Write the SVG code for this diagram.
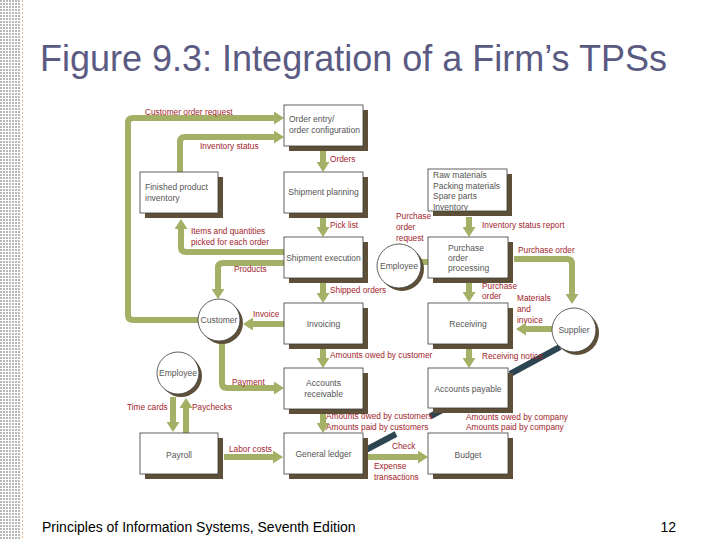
<svg xmlns="http://www.w3.org/2000/svg" width="720" height="540" viewBox="0 0 720 540">
<defs>
<pattern id="dots" width="3" height="3" patternUnits="userSpaceOnUse">
<rect x="0" y="0" width="2" height="2" fill="#b8b8b8"/>
</pattern>
<marker id="ah" markerUnits="userSpaceOnUse" markerWidth="12" markerHeight="13" refX="2" refY="6.5" orient="auto" viewBox="0 0 12 13">
<path d="M0,0 L10,6.5 L0,13 z" fill="#a4b065"/>
</marker>
<style>
.box{fill:#fff;stroke:#3a3a3a;stroke-width:0.8}
.sh{fill:#5e5038}
.bt{font-family:"Liberation Sans",Arial,sans-serif;font-size:8.5px;fill:#555}
.lb{font-family:"Liberation Sans",Arial,sans-serif;font-size:8.3px;fill:#a3242c}
.ar{fill:none;stroke:#a4b065;stroke-width:6;marker-end:url(#ah)}
.dk{stroke:#2d4550;stroke-width:6;fill:none}
.cir{fill:#fff;stroke:#3a3a3a;stroke-width:0.8}
</style>
</defs>
<rect width="720" height="540" fill="#fff"/>
<rect x="0" y="0" width="21" height="540" fill="url(#dots)"/>
<line x1="22.5" y1="0" x2="22.5" y2="540" stroke="#e2b47e" stroke-width="1" stroke-dasharray="2,2"/>
<text x="40" y="71" font-family="'Liberation Sans',Arial,sans-serif" font-size="36" fill="#5a5a82">Figure 9.3: Integration of a Firm’s TPSs</text>
<text x="42" y="532" font-family="'Liberation Sans',Arial,sans-serif" font-size="14" fill="#000">Principles of Information Systems, Seventh Edition</text>
<text x="676" y="532" text-anchor="end" font-family="'Liberation Sans',Arial,sans-serif" font-size="14" fill="#000">12</text>

<g id="connectors">
<path class="ar" d="M198,320 H133 Q128,320 128,315 V123 Q128,118 133,118 H276"/>
<path class="ar" d="M180,172 V142 Q180,137 185,137 H276"/>
<path class="ar" d="M323,150 V164"/>
<path class="ar" d="M323,217 V229"/>
<path class="ar" d="M284,252 H186 Q181,252 181,247 V227"/>
<path class="ar" d="M284,263 H223 Q218,263 218,268 V291"/>
<path class="ar" d="M323,282 V295"/>
<path class="ar" d="M284,324 H251"/>
<path class="ar" d="M323,348 V360"/>
<path class="ar" d="M222,341 V383 Q222,388 227,388 H276"/>
<path class="ar" d="M173,397 V424"/>
<path class="ar" d="M186,433 V406"/>
<path class="ar" d="M224,457 H275"/>
<path class="ar" d="M323,413 V425"/>
<path class="ar" d="M368,457 H420"/>
<path class="ar" d="M469,217 V229"/>
<path class="ar" d="M420,262 H432"/>
<path class="ar" d="M514,259 H567 Q572,259 572,264 V296"/>
<path class="ar" d="M469,283 V294"/>
<path class="ar" d="M552,329 H524"/>
<path class="ar" d="M469,348 V360"/>
<line class="dk" x1="560" y1="347" x2="510" y2="374"/>
<line class="dk" x1="444" y1="409" x2="430" y2="416.5"/>
<line class="dk" x1="396" y1="434" x2="362" y2="452"/>
</g>

<g id="labels">
<text class="lb" x="145" y="115">Customer order request</text>
<text class="lb" x="200" y="149">Inventory status</text>
<text class="lb" x="330" y="162">Orders</text>
<text class="lb" x="330" y="228">Pick list</text>
<text class="lb" x="191" y="234">Items and quantities</text>
<text class="lb" x="191" y="245">picked for each order</text>
<text class="lb" x="234" y="272">Products</text>
<text class="lb" x="330" y="293">Shipped orders</text>
<text class="lb" x="253" y="317">Invoice</text>
<text class="lb" x="330" y="358">Amounts owed by customer</text>
<text class="lb" x="232" y="385">Payment</text>
<text class="lb" x="127" y="410">Time cards</text>
<text class="lb" x="192" y="410">Paychecks</text>
<text class="lb" x="229" y="452">Labor costs</text>
<text class="lb" x="326" y="419">Amounts owed by customers</text>
<text class="lb" x="326" y="430">Amounts paid by customers</text>
<text class="lb" x="392" y="449">Check</text>
<text class="lb" x="374" y="469">Expense</text>
<text class="lb" x="374" y="480">transactions</text>
<text class="lb" x="396" y="219">Purchase</text>
<text class="lb" x="396" y="230">order</text>
<text class="lb" x="396" y="241">request</text>
<text class="lb" x="482" y="228">Inventory status report</text>
<text class="lb" x="518" y="253">Purchase order</text>
<text class="lb" x="482" y="289">Purchase</text>
<text class="lb" x="482" y="299">order</text>
<text class="lb" x="517" y="301">Materials</text>
<text class="lb" x="517" y="312">and</text>
<text class="lb" x="517" y="323">invoice</text>
<text class="lb" x="482" y="359">Receiving notice</text>
<text class="lb" x="466" y="420">Amounts owed by company</text>
<text class="lb" x="466" y="430">Amounts paid by company</text>
</g>

<g id="order-entry"><rect class="sh" x="289" y="110" width="79" height="41"/><rect class="box" x="284" y="105" width="79" height="41"/><text class="bt" x="289" y="122">Order entry/</text><text class="bt" x="289" y="133">order configuration</text></g>
<g id="finished-product"><rect class="sh" x="145" y="177" width="78" height="41"/><rect class="box" x="140" y="172" width="78" height="41"/><text class="bt" x="145" y="190">Finished product</text><text class="bt" x="145" y="201">inventory</text></g>
<g id="shipment-planning"><rect class="sh" x="289" y="177" width="79" height="41"/><rect class="box" x="284" y="172" width="79" height="41"/><text class="bt" x="323.5" y="195" text-anchor="middle">Shipment planning</text></g>
<g id="raw-materials"><rect class="sh" x="433" y="174" width="79" height="42"/><rect class="box" x="428" y="169" width="79" height="42"/><text class="bt" x="433" y="178">Raw materials</text><text class="bt" x="433" y="189">Packing materials</text><text class="bt" x="433" y="199">Spare parts</text><text class="bt" x="433" y="210">Inventory</text></g>
<g id="shipment-execution"><rect class="sh" x="289" y="242" width="79" height="41"/><rect class="box" x="284" y="237" width="79" height="41"/><text class="bt" x="323.5" y="261" text-anchor="middle">Shipment execution</text></g>
<g id="purchase-order-processing"><rect class="sh" x="433" y="242" width="80" height="41"/><rect class="box" x="428" y="237" width="80" height="41"/><text class="bt" x="448" y="251">Purchase</text><text class="bt" x="448" y="261">order</text><text class="bt" x="448" y="271">processing</text></g>
<g id="invoicing"><rect class="sh" x="289" y="308" width="79" height="41"/><rect class="box" x="284" y="303" width="79" height="41"/><text class="bt" x="323.5" y="327" text-anchor="middle">Invoicing</text></g>
<g id="receiving"><rect class="sh" x="433" y="308" width="80" height="41"/><rect class="box" x="428" y="303" width="80" height="41"/><text class="bt" x="468" y="327" text-anchor="middle">Receiving</text></g>
<g id="accounts-receivable"><rect class="sh" x="289" y="373" width="79" height="41"/><rect class="box" x="284" y="368" width="79" height="41"/><text class="bt" x="323.5" y="386" text-anchor="middle">Accounts</text><text class="bt" x="323.5" y="397" text-anchor="middle">receivable</text></g>
<g id="accounts-payable"><rect class="sh" x="433" y="373" width="80" height="40"/><rect class="box" x="428" y="368" width="80" height="40"/><text class="bt" x="468" y="392" text-anchor="middle">Accounts payable</text></g>
<g id="payroll"><rect class="sh" x="145" y="438" width="78" height="41"/><rect class="box" x="140" y="433" width="78" height="41"/><text class="bt" x="179" y="458" text-anchor="middle">Payroll</text></g>
<g id="general-ledger"><rect class="sh" x="289" y="438" width="79" height="41"/><rect class="box" x="284" y="433" width="79" height="41"/><text class="bt" x="323.5" y="457" text-anchor="middle">General ledger</text></g>
<g id="budget"><rect class="sh" x="433" y="438" width="80" height="41"/><rect class="box" x="428" y="433" width="80" height="41"/><text class="bt" x="468" y="458" text-anchor="middle">Budget</text></g>

<g id="customer"><circle class="sh" cx="222" cy="323" r="21"/><circle class="cir" cx="219" cy="320" r="21"/><text class="bt" x="219" y="323" text-anchor="middle">Customer</text></g>
<g id="employee-purchase"><circle class="sh" cx="402" cy="269" r="22"/><circle class="cir" cx="399" cy="266" r="22"/><text class="bt" x="399" y="269" text-anchor="middle">Employee</text></g>
<g id="supplier"><circle class="sh" cx="577" cy="333" r="22"/><circle class="cir" cx="574" cy="330" r="22"/><text class="bt" x="574" y="333" text-anchor="middle">Supplier</text></g>
<g id="employee-payroll"><circle class="sh" cx="181" cy="376" r="21"/><circle class="cir" cx="178" cy="373" r="21"/><text class="bt" x="178" y="376" text-anchor="middle">Employee</text></g>
</svg>
